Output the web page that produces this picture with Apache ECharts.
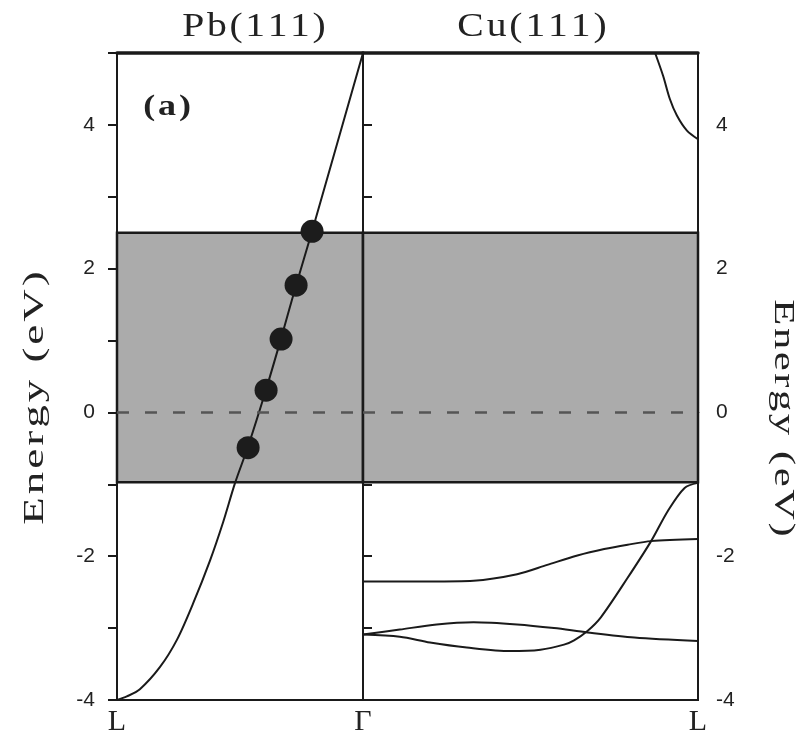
<!DOCTYPE html>
<html><head><meta charset="utf-8">
<script src="https://cdn.jsdelivr.net/npm/echarts@6/dist/echarts.min.js"></script>
<style>html,body{margin:0;padding:0;background:#fff}#c{width:804px;height:737px}</style>
</head><body><div id="c"></div>
<script>
const panelTitles = ['Pb(111)', 'Cu(111)'];
const axisTitle = 'Energy (eV)';
const panelLabel = '(a)';
const kLabelsLeft = ['L', 'Γ'];
const kLabelsRight = ['Γ', 'L'];
const energyTicks = [-4, -2, 0, 2, 4];
const energyMin = -4, energyMax = 5;
const bandLow = -0.97, bandHigh = 2.5;
const fermi = 0;

const pbK = [0, 0.04, 0.093, 0.175, 0.244, 0.309, 0.378, 0.431, 0.48, 0.533, 0.606, 0.667, 0.728, 0.793, 1];
const pbE = [-4, -3.95, -3.85, -3.54, -3.16, -2.66, -2.06, -1.53, -0.98, -0.47, 0.32, 1.03, 1.77, 2.52, 5.0];
const dotK = [0.533, 0.606, 0.667, 0.728, 0.793];
const dotE = [-0.49, 0.31, 1.02, 1.77, 2.52];

const cuAK = [0.872, 0.896, 0.916, 0.937, 0.967, 1];
const cuAE = [5.0, 4.68, 4.36, 4.13, 3.92, 3.8];
const cuBK = [0, 0.2, 0.33, 0.46, 0.55, 0.64, 0.72, 0.79, 0.86, 1];
const cuBE = [-2.35, -2.35, -2.34, -2.25, -2.12, -1.99, -1.9, -1.84, -1.79, -1.76];
const cuCK = [0, 0.11, 0.2, 0.31, 0.44, 0.53, 0.6, 0.63, 0.67, 0.71, 0.79, 0.86, 0.91, 0.96, 1];
const cuCE = [-3.09, -3.12, -3.2, -3.27, -3.32, -3.3, -3.23, -3.17, -3.04, -2.85, -2.3, -1.79, -1.37, -1.05, -0.98];
const cuDK = [0, 0.11, 0.22, 0.33, 0.46, 0.57, 0.67, 0.81, 1];
const cuDE = [-3.09, -3.02, -2.95, -2.92, -2.95, -3.0, -3.06, -3.13, -3.18];

const zip = (a, b) => a.map((v, i) => [v, b[i]]);
const spaced = (str, key) => str.split('').map(ch => '{' + key + '|' + ch + '}').join('');

const ink = '#1a1a1a';
const serif = 'Liberation Serif, Times New Roman, serif';
const sans = 'Liberation Sans, Arial, sans-serif';

const chart = echarts.init(document.getElementById('c'), null, {renderer: 'canvas'});

const lineSeries = (xi, data, extra) => Object.assign({
  type: 'line', xAxisIndex: xi, yAxisIndex: xi, data: data,
  smooth: 0.3, showSymbol: false, symbol: 'none', silent: true,
  lineStyle: {color: ink, width: 2}, z: 3
}, extra || {});

const bandMarks = {
  markArea: {
    silent: true,
    itemStyle: {color: '#ababab', borderColor: ink, borderWidth: 2.5},
    data: [[{yAxis: bandLow}, {yAxis: bandHigh}]]
  },
  markLine: {
    silent: true, symbol: 'none', label: {show: false},
    lineStyle: {type: [12, 16], color: '#555', width: 2.5},
    data: [{yAxis: fermi}]
  }
};

const xAxisBase = {
  type: 'value', min: 0, max: 1, interval: 1,
  axisLine: {show: true, lineStyle: {color: ink, width: 2.5}},
  axisTick: {show: false}, splitLine: {show: false}
};
const xTopBase = Object.assign({}, xAxisBase, {
  position: 'top', axisLine: {show: true, lineStyle: {color: ink, width: 3.5}}, axisLabel: {show: false}
});
const yAxisBase = {
  type: 'value', min: energyMin, max: energyMax, interval: 1,
  axisLine: {show: true, lineStyle: {color: ink, width: 2}},
  axisTick: {show: true, inside: false, length: 9, lineStyle: {color: ink, width: 2}},
  splitLine: {show: false}
};
const xLabel = (fmt) => ({formatter: fmt, showMinLabel: true, showMaxLabel: true,
  fontFamily: serif, fontSize: 30, color: '#222', margin: 7});
const yLabel = (margin) => ({formatter: v => energyTicks.indexOf(v) >= 0 ? String(v) : '',
  fontFamily: sans, fontSize: 21, color: '#222', margin: margin});

const textEl = (x, y, str, opts) => ({
  type: 'text', x: x, y: y, rotation: opts.rotation || 0, scaleX: opts.scaleX || 1, silent: true,
  style: {text: spaced(str, 'c'), align: 'center', verticalAlign: 'middle',
    rich: {c: {fontFamily: serif, fontSize: opts.size, fontWeight: opts.weight || 'normal', fill: '#222', padding: [0, opts.pad]}}}
});

chart.setOption({
  animation: false,
  backgroundColor: '#ffffff',
  grid: [
    {left: 117, top: 53, width: 246, height: 649, show: true, borderColor: ink, borderWidth: 2, backgroundColor: 'transparent'},
    {left: 363, top: 53, width: 335, height: 649, show: true, borderColor: ink, borderWidth: 2, backgroundColor: 'transparent'}
  ],
  xAxis: [
    Object.assign({}, xAxisBase, {gridIndex: 0, axisLabel: xLabel(v => v === 0 ? kLabelsLeft[0] : kLabelsLeft[1])}),
    Object.assign({}, xAxisBase, {gridIndex: 1, axisLabel: xLabel(v => v === 1 ? kLabelsRight[1] : '')}),
    Object.assign({}, xTopBase, {gridIndex: 0}),
    Object.assign({}, xTopBase, {gridIndex: 1})
  ],
  yAxis: [
    Object.assign({}, yAxisBase, {gridIndex: 0, position: 'left', axisLabel: yLabel(22)}),
    Object.assign({}, yAxisBase, {gridIndex: 1, position: 'right', axisLabel: yLabel(18)})
  ],
  series: [
    lineSeries(0, zip(pbK, pbE), bandMarks),
    {type: 'scatter', xAxisIndex: 0, yAxisIndex: 0, data: zip(dotK, dotE), symbolSize: 23,
      itemStyle: {color: '#1c1c1c', opacity: 1}, z: 4, silent: true},
    lineSeries(1, zip(cuBK, cuBE), bandMarks),
    lineSeries(1, zip(cuAK, cuAE)),
    lineSeries(1, zip(cuCK, cuCE)),
    lineSeries(1, zip(cuDK, cuDE))
  ],
  graphic: [
    textEl(254, 27, panelTitles[0], {size: 33, scaleX: 1.2, pad: 1.1}),
    textEl(532, 27, panelTitles[1], {size: 33, scaleX: 1.2, pad: 1.2}),
    textEl(167, 107, panelLabel, {size: 30, scaleX: 1.2, pad: 1.2, weight: 'bold'}),
    textEl(35, 398, axisTitle, {size: 30, scaleX: 1.5, pad: 1.0, rotation: Math.PI / 2}),
    textEl(783, 418, axisTitle, {size: 30, scaleX: 1.42, pad: 0.9, rotation: -Math.PI / 2})
  ]
});
</script>
</body></html>
